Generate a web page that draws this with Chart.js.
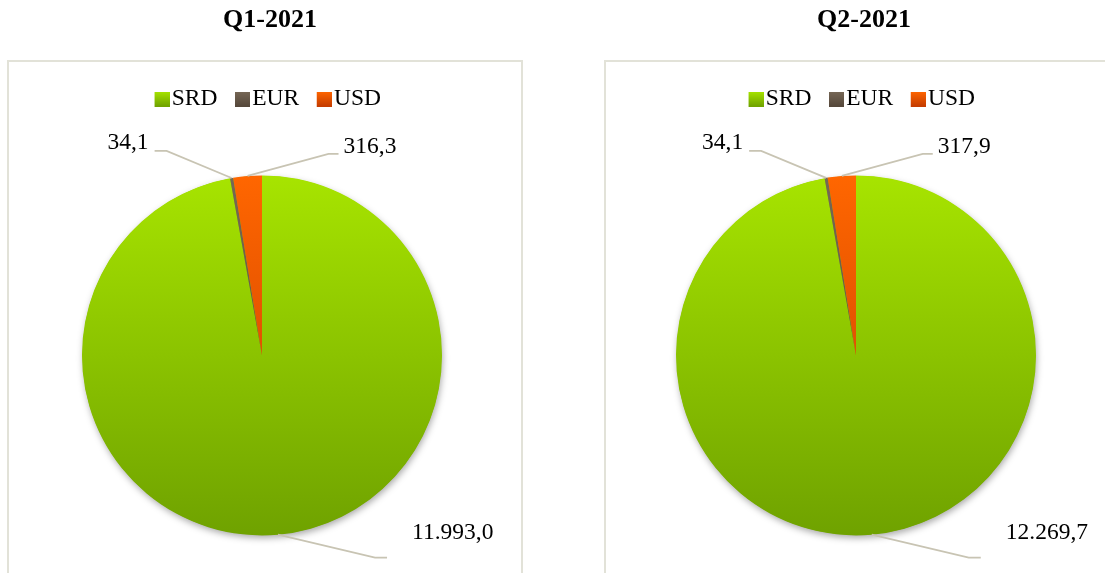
<!DOCTYPE html>
<html><head><meta charset="utf-8">
<script src="https://cdn.jsdelivr.net/npm/chart.js@4.4.1/dist/chart.umd.min.js"></script>
<style>
html,body{margin:0;padding:0;background:#fff;width:1105px;height:573px;overflow:hidden;position:relative;}
.box{position:absolute;top:60px;height:600px;border:2px solid #e2e2d8;box-sizing:border-box;}
#box1{left:7px;width:516px;}
#box2{left:604px;width:600px;}
canvas{position:absolute;top:0;}
#c1{left:0;}
#c2{left:594px;}
</style></head><body>
<div class="box" id="box1"></div><div class="box" id="box2"></div>
<canvas id="c1" width="540" height="590"></canvas>
<canvas id="c2" width="540" height="590"></canvas>
<script>
// ---- data ----
const categories = ['SRD', 'EUR', 'USD'];
const periods = ['Q1-2021', 'Q2-2021'];
const q1Values = [11993.0, 34.1, 316.3];
const q2Values = [12269.7, 34.1, 317.9];

// ---- styles ----
const SERIF = '"Liberation Serif", "Times New Roman", Times, serif';
const PIE_RADIUS = 180;
const sliceGradients = [['#a7e400', '#6fa200'], ['#766756', '#55473a'], ['#ff6600', '#c43c00']];
const labelLayout = [
  {elbow: [97, 23], end: [109, 23], text: [134, -2], align: 'left'},
  {elbow: [-65, -27], end: [-77, -27], text: [-83, -35], align: 'right'},
  {elbow: [81, -22], end: [91, -22], text: [96, -29], align: 'left'}
];

function fmt(v) {
  const parts = v.toFixed(1).split('.');
  return parts[0].replace(/\B(?=(\d{3})+(?!\d))/g, '.') + ',' + parts[1];
}

function markerCanvas(i) {
  const c = document.createElement('canvas');
  c.width = 20; c.height = 15;
  const g = c.getContext('2d');
  const gr = g.createLinearGradient(0, 0, 0, 15);
  gr.addColorStop(0, sliceGradients[i][0]);
  gr.addColorStop(1, sliceGradients[i][1]);
  g.fillStyle = gr;
  g.fillRect(5, 0, 15, 15);
  return c;
}

const shiftPlugin = {
  id: 'pieShift',
  afterLayout(chart) {
    const a = chart.chartArea;
    a.left -= 8; a.right -= 8;
  }
};

const shadowPlugin = {
  id: 'pieShadow',
  beforeDatasetsDraw(chart) {
    const meta = chart.getDatasetMeta(0);
    const arc = meta.data[0];
    if (!arc) return;
    const {x, y, outerRadius} = arc.getProps(['x', 'y', 'outerRadius'], true);
    const ctx = chart.ctx;
    ctx.save();
    ctx.shadowColor = 'rgba(0,0,0,0.35)';
    ctx.shadowBlur = 7;
    ctx.shadowOffsetX = 1;
    ctx.shadowOffsetY = 3;
    ctx.fillStyle = '#88bb00';
    ctx.beginPath();
    ctx.arc(x, y, outerRadius - 0.5, 0, Math.PI * 2);
    ctx.fill();
    ctx.restore();
  }
};

const labelPlugin = {
  id: 'leaderLabels',
  afterDatasetsDraw(chart) {
    const ctx = chart.ctx;
    const meta = chart.getDatasetMeta(0);
    const values = chart.data.datasets[0].data;
    ctx.save();
    ctx.font = '23.5px ' + SERIF;
    ctx.textBaseline = 'middle';
    meta.data.forEach((arc, i) => {
      const {x, y, startAngle, endAngle, outerRadius} = arc.getProps(['x', 'y', 'startAngle', 'endAngle', 'outerRadius'], true);
      const mid = (startAngle + endAngle) / 2;
      const ax = x + Math.cos(mid) * outerRadius;
      const ay = y + Math.sin(mid) * outerRadius;
      const L = labelLayout[i];
      ctx.strokeStyle = '#c8c4b3';
      ctx.lineWidth = 1.75;
      ctx.beginPath();
      ctx.moveTo(ax, ay);
      ctx.lineTo(ax + L.elbow[0], ay + L.elbow[1]);
      ctx.lineTo(ax + L.end[0], ay + L.end[1]);
      ctx.stroke();
      ctx.fillStyle = '#000';
      ctx.textAlign = L.align;
      ctx.fillText(fmt(values[i]), ax + L.text[0], ay + L.text[1]);
    });
    ctx.restore();
  }
};

function makeChart(canvasId, title, values) {
  return new Chart(document.getElementById(canvasId), {
    type: 'pie',
    data: {
      labels: categories,
      datasets: [{
        data: values,
        borderWidth: 0,
        radius: PIE_RADIUS,
        backgroundColor: (c) => {
          const stops = sliceGradients[c.dataIndex] || sliceGradients[0];
          const chart = c.chart;
          const a = chart.chartArea;
          if (!a) return stops[0];
          const cy = (a.top + a.bottom) / 2;
          const g = chart.ctx.createLinearGradient(0, cy - PIE_RADIUS, 0, cy + PIE_RADIUS);
          g.addColorStop(0, stops[0]);
          g.addColorStop(1, stops[1]);
          return g;
        }
      }]
    },
    options: {
      responsive: false,
      animation: false,
      events: [],
      layout: {padding: 0},
      plugins: {
        title: {
          display: true, text: title, color: '#000',
          font: {family: SERIF, size: 26, weight: 'bold', lineHeight: 1.2},
          padding: {top: 4.4, bottom: 29.65}
        },
        legend: {
          display: true, position: 'top',
          labels: {
            usePointStyle: true, pointStyleWidth: 1, boxHeight: 15, padding: 22,
            color: '#000', font: {family: SERIF, size: 23.5},
            generateLabels(chart) {
              const items = Chart.overrides.doughnut.plugins.legend.labels.generateLabels(chart);
              items.forEach((it, i) => {
                it.pointStyle = markerCanvas(i);
                it.fontColor = '#000';
                it.lineWidth = 0;
              });
              return items;
            }
          }
        },
        tooltip: {enabled: false}
      }
    },
    plugins: [shiftPlugin, shadowPlugin, labelPlugin]
  });
}

makeChart('c1', periods[0], q1Values);
makeChart('c2', periods[1], q2Values);
</script>
</body></html>
